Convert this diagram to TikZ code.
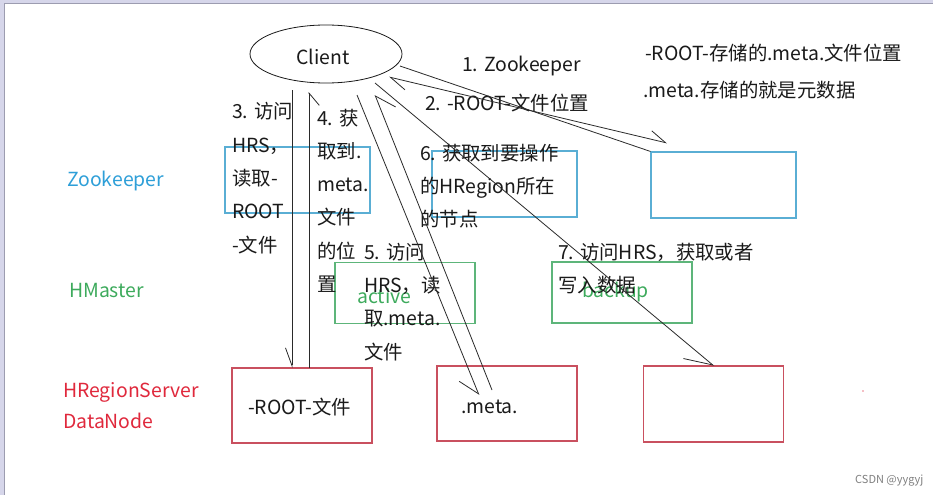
\documentclass[tikz,border=0pt]{standalone}
\usepackage{fontspec}
\setmainfont{Noto Sans CJK SC}
\usetikzlibrary{arrows.meta,shapes.geometric}
\definecolor{zkblue}{HTML}{2E9FD8}
\definecolor{zkbox}{HTML}{5AAED4}
\definecolor{hmgreen}{HTML}{3DAA5C}
\definecolor{hmbox}{HTML}{5DB57A}
\definecolor{rsred}{HTML}{E0283C}
\definecolor{rsbox}{HTML}{C9505F}
\definecolor{ink}{HTML}{1A1A1A}
\definecolor{wire}{HTML}{2A2A2A}
\definecolor{frameL}{HTML}{D6D6EA}
\definecolor{frameD}{HTML}{9C9CB0}
\tikzset{
  txt/.style={inner sep=0pt, anchor=base west, text=ink, align=left,
    font=\fontsize{19.4}{33.3}\selectfont},
  boxbase/.style={draw, line width=1.1pt, inner sep=0pt},
  zkbx/.style={boxbase, draw=zkbox, minimum width=145pt, minimum height=66pt},
  hmbx/.style={boxbase, draw=hmbox, minimum width=140pt, minimum height=61pt},
  rsbx/.style={boxbase, draw=rsbox, minimum width=140pt, minimum height=75pt},
  wireline/.style={draw=wire, line width=0.8pt},
}
\begin{document}
\begin{tikzpicture}[x=1pt, y=-1pt]
\useasboundingbox (0,0) rectangle (933,495);
\fill[white] (0,0) rectangle (933,495);
% window frame
\fill[frameL] (0,0) rectangle (933,3);
\draw[frameD, line width=0.8pt] (4,3.5) -- (933,3.5);
\fill[frameL] (0,0) rectangle (4,495);
\draw[frameD, line width=0.8pt] (4,3.5) -- (4,495);

% left labels (multi-line nodes: anchor is the baseline of the last line)
\node[txt, text=zkblue] (lzk) at (67,186) {Zookeeper};
\node[txt, text=hmgreen] (lhm) at (69,297) {HMaster};
\node[txt, text=rsred, font=\fontsize{19.4}{31}\selectfont] (lrs) at (63,428) {HRegionServer\\DataNode};

% client
\node[draw=ink, line width=0.8pt, ellipse, minimum width=152pt, minimum height=58pt, inner sep=0pt] (client) at (326,54) {};
\node[txt] (clienttxt) at (296,64) {Client};

% boxes
\node[zkbx] (zk1) at (297.5,180) {};
\node[zkbx] (zk2) at (504.5,184) {};
\node[zkbx] (zk3) at (723.5,185) {};
\node[hmbx] (hm1) at (405,293) {};
\node[hmbx] (hm2) at (622,292.5) {};
\node[rsbx] (rs1) at (302,405.5) {};
\node[rsbx] (rs2) at (507,403.5) {};
\node[rsbx, minimum height=76pt] (rs3) at (713.5,404) {};

\node[txt, text=hmgreen] (active) at (357,303) {active};
\node[txt, text=hmgreen] (backup) at (582,297) {backup};
\node[txt] (rootfile) at (248,414) {-ROOT-文件};
\node[txt] (metafile) at (461,413) {.meta.};

% notes
\node[txt] (n1) at (462,71) {1. Zookeeper};
\node[txt] (n2) at (425,110) {2. -ROOT-文件位置};
\node[txt] (n3) at (232,252) {3. 访问\\HRS，\\读取-\\ROOT\\-文件};
\node[txt] (n4) at (317,291.5) {4. 获\\取到.\\meta.\\文件\\的位\\置};
\node[txt] (n5) at (364,359) {5. 访问\\HRS，读\\取.meta.\\文件};
\node[txt] (n6) at (420,226.6) {6. 获取到要操作\\的HRegion所在\\的节点};
\node[txt] (n7) at (558,292.3) {7. 访问HRS，获取或者\\写入数据};
\node[txt] (m1) at (645,60) {-ROOT-存储的.meta.文件位置};
\node[txt] (m2) at (643,97) {.meta.存储的就是元数据};

\node[inner sep=0pt, anchor=base west, text=gray, font=\fontsize{11}{13}\selectfont] (csdn) at (855,483) {CSDN @yygyj};
\fill[rsred!60] (863,391) circle (0.8);

% connector ends
\coordinate (c1) at (400,66);
\coordinate (c2) at (389,77);
\coordinate (z2) at (667,143);
\coordinate (c3) at (292,90);
\coordinate (r3) at (292,368);
\coordinate (c4) at (309,92);
\coordinate (r4) at (309,368);
\coordinate (c5) at (357,95);
\coordinate (m5) at (479,395);
\coordinate (m6) at (492,390);
\coordinate (c6) at (375,95);
\coordinate (c7) at (375,83);
\coordinate (r7) at (714,366);

% connectors
\draw[wireline] (c1) -- (zk3.north west);
\draw[wireline, {Straight Barb[harpoon, angle=55:18pt]}-{Straight Barb[harpoon, angle=55:19pt]}] (z2) -- (c2);
\draw[wireline, -{Straight Barb[harpoon, swap, angle=40:19pt]}] (c3) -- (r3);
\draw[wireline, -{Straight Barb[harpoon, swap, angle=80:16pt]}] (r4) -- (c4);
\draw[wireline, -{Straight Barb[harpoon, swap, angle=70:23pt]}] (c5) -- (m5);
\draw[wireline, -{Straight Barb[harpoon, swap, angle=80:23pt]}] (m6) -- (c6);
\draw[wireline, -{Straight Barb[harpoon, swap, angle=55:30pt]}] (c7) -- (r7);
\end{tikzpicture}
\end{document}
